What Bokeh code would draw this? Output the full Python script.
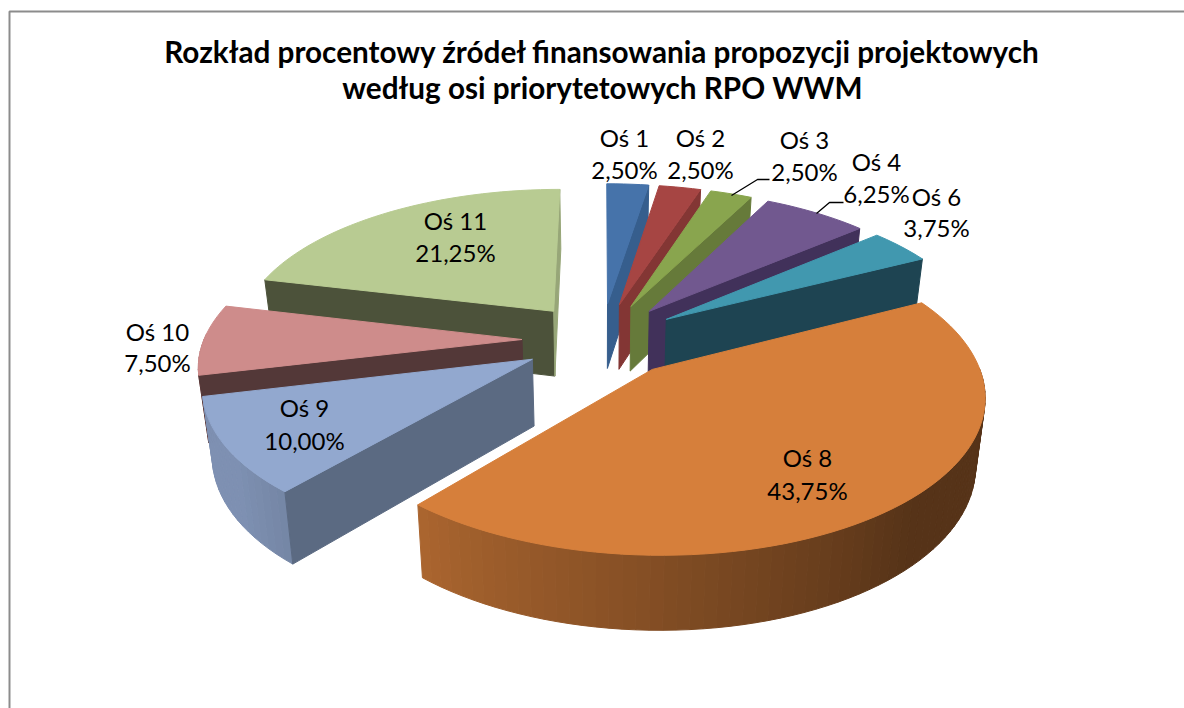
import numpy as np
from bokeh.plotting import figure
from bokeh.models import Range1d
from bokeh.core.properties import value
from bokeh.embed import file_html
from bokeh.resources import INLINE

title_lines = ["Rozkład procentowy źródeł finansowania propozycji projektowych",
               "według osi priorytetowych RPO WWM"]
categories = ["Oś 1", "Oś 2", "Oś 3", "Oś 4", "Oś 6", "Oś 8", "Oś 9", "Oś 10", "Oś 11"]
shares = [2.50, 2.50, 2.50, 6.25, 3.75, 43.75, 10.00, 7.50, 21.25]
top_colors = ["#4673AA", "#A64543", "#89A54E", "#71588F", "#4198AF", "#D67F3B", "#92A8CF", "#CE8C8B", "#B8CB92"]
wall_colors = ["#365E8D", "#833634", "#667A3A", "#41315A", "#1E4452", "#55331A", "#5B6A82", "#533838", "#4C523A"]
label_x = [624, 700, 804, 876, 936, 807, 304, 157, 455]
label_y1 = [137, 137, 139, 161, 196, 457, 407, 331, 220]
label_y2 = [169, 169, 171, 193, 227, 490, 440, 362, 252]
draw_order = [0, 1, 2, 3, 4, 8, 7, 6, 5]

CX, CY, RX, RY, K, EXPL, DEPTH, SHRINK = 601, 339, 318, 148, 0.15, 0.25, 66, 0.975
FONT = value("Lato")


def project(theta, rho, mid):
    X = EXPL * np.sin(mid) + rho * np.sin(theta)
    Y = EXPL * np.cos(mid) + rho * np.cos(theta)
    w = 1 + K * Y
    x = CX + RX * X / w
    y = CY - RY * Y / w
    return x, y, CX + SHRINK * (x - CX), CY + SHRINK * (y - CY) + DEPTH / w


def shade(hex_color, f):
    rgb = [int(hex_color[i:i + 2], 16) for i in (1, 3, 5)]
    return "#%02x%02x%02x" % tuple(int(round(c * f)) for c in rgb)


def wall_shade(theta_deg):
    return float(np.clip(0.40 + (theta_deg - 135) * 0.40 / 85, 0.40, 0.86))


xs, ys, fills = [], [], []
edges = np.concatenate([[0], np.cumsum(shares)]) / sum(shares) * 2 * np.pi


def add(px, py, col):
    xs.append(list(px)); ys.append(list(py)); fills.append(col)


for i in draw_order:
    a0, a1 = edges[i], edges[i + 1]
    mid = (a0 + a1) / 2
    th = np.linspace(a0, a1, max(6, int(np.degrees(a1 - a0) / 2)))
    tx, ty, bx, by = project(th, 1.0, mid)
    ax, ay, abx, aby = project(a0, 0.0, mid)
    # outer wall, only where it faces the viewer
    for j in range(len(th) - 1):
        deg = np.degrees(th[j])
        if 88 <= deg <= 272:
            add([tx[j], tx[j + 1], bx[j + 1], bx[j]], [ty[j], ty[j + 1], by[j + 1], by[j]],
                shade(top_colors[i], wall_shade(deg)))
    # radial walls, only those that face the viewer
    if a0 > np.pi:
        add([ax, tx[0], bx[0], abx], [ay, ty[0], by[0], aby], wall_colors[i])
    if a1 <= np.pi:
        add([ax, tx[-1], bx[-1], abx], [ay, ty[-1], by[-1], aby], wall_colors[i])
    elif a1 >= 2 * np.pi - 1e-6:
        add([ax, tx[-1], bx[-1], abx], [ay, ty[-1], by[-1], aby], shade(top_colors[i], 0.82))
    # top face
    add([ax] + list(tx), [ay] + list(ty), top_colors[i])

p = figure(width=1184, height=708, output_backend="svg", toolbar_location=None,
           x_range=Range1d(0, 1184), y_range=Range1d(708, 0),
           x_axis_location=None, y_axis_location=None, min_border=0)
p.grid.visible = False
p.outline_line_color = None
p.background_fill_color = "white"
p.border_fill_color = "white"

# chart frame
p.line([9, 9, 1184], [708, 11, 11], line_color="#8C8C8C", line_width=2)

p.patches(xs, ys, fill_color=fills, line_color=fills, line_width=1.0)

# leader lines
p.line([731, 757, 769], [195, 179, 179], line_color="#000000", line_width=1.3)
p.line([816, 829, 843], [213, 202, 202], line_color="#000000", line_width=1.3)

pct = [f"{v:.2f}%".replace(".", ",") for v in shares]
p.text(label_x, label_y1, text=categories, text_font=FONT, text_font_size="24px",
       text_align="center", text_baseline="middle", text_color="#000000")
p.text(label_x, label_y2, text=pct, text_font=FONT, text_font_size="24px",
       text_align="center", text_baseline="middle", text_color="#000000")
p.text([602, 602], [51, 87], text=title_lines, text_font=FONT, text_font_style="bold",
       text_font_size="29.7px", text_align="center", text_baseline="middle", text_color="#000000")

open("out.html", "w").write(file_html(p, INLINE))
